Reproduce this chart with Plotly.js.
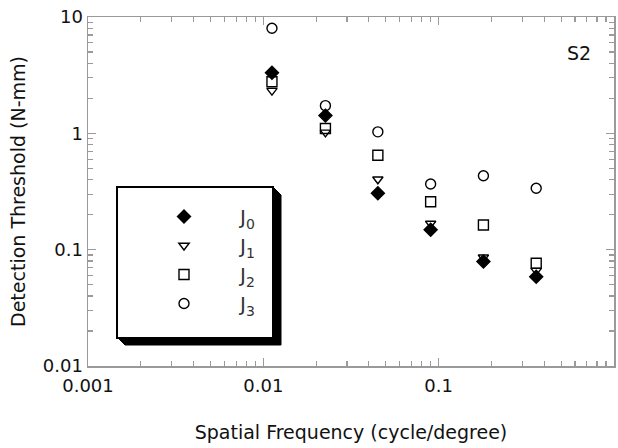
<!DOCTYPE html>
<html><head><meta charset="utf-8">
<script src="https://cdn.plot.ly/plotly-3.0.1.min.js"></script>
<style>html,body{margin:0;padding:0;background:#fff}</style>
</head><body><div id="chart" style="width:618px;height:448px"></div>
<script>
// Data
const freq = [0.0112, 0.0226, 0.045, 0.09, 0.18, 0.36];
const j0 = [3.32, 1.42, 0.305, 0.148, 0.079, 0.0586];
const j1 = [2.33, 1.02, 0.403, 0.168, 0.086, 0.066];
const j2 = [2.78, 1.10, 0.648, 0.258, 0.163, 0.0764];
const j3 = [8.0, 1.73, 1.03, 0.367, 0.432, 0.337];
const seriesNames = ['J<sub>0</sub>', 'J<sub>1</sub>', 'J<sub>2</sub>', 'J<sub>3</sub>'];
const xTickVals = [0.001, 0.01, 0.1, 1];
const xTickText = ['0.001', '0.01', '0.1', '1'];
const yTickVals = [0.01, 0.1, 1, 10];
const yTickText = ['0.01', '0.1', '1', '10'];
const panelLabel = 'S2';

const seriesY = [j0, j1, j2, j3];
const symbols = ['diamond', 'triangle-down-open', 'square-open', 'circle-open'];
const sizes = [10, 9, 10, 10];

const traces = seriesY.map((ys, i) => ({
  x: freq, y: ys, type: 'scatter', mode: 'markers', name: seriesNames[i],
  legendgroup: 'g' + i,
  marker: {symbol: symbols[i], size: sizes[i], color: '#000', line: {color: '#000', width: 1.4}}
}));

// helpers: pixel -> paper for decoration shapes
const L = 88, T = 17, W = 526, H = 349;
const px = v => (v - L) / W;
const py = v => (T + H - v) / H;

const axisCommon = {
  type: 'log', showline: true, linecolor: '#9a9a9a', linewidth: 1.5, mirror: 'ticks',
  ticks: 'inside', ticklen: 8, tickwidth: 1.2, tickcolor: '#9a9a9a',
  showgrid: false, zeroline: false, tickmode: 'array',
  tickfont: {family: 'DejaVu Sans', size: 18, color: '#111'},
  minor: {ticks: 'inside', ticklen: 5, tickwidth: 1.2, tickcolor: '#9a9a9a', dtick: 'D1', showgrid: false}
};

const layout = {
  width: 618, height: 448,
  margin: {l: L, r: 618 - L - W, t: T, b: 448 - T - H},
  paper_bgcolor: '#fff', plot_bgcolor: '#fff',
  font: {family: 'DejaVu Sans', color: '#111'},
  xaxis: Object.assign({}, axisCommon, {
    range: [-3, 0], tickvals: xTickVals, ticktext: xTickText, ticklabelstandoff: 3,
    title: {text: 'Spatial Frequency (cycle/degree)', font: {family: 'DejaVu Sans', size: 19, color: '#111'}, standoff: 30}
  }),
  yaxis: Object.assign({}, axisCommon, {
    range: [-2, 1], tickvals: yTickVals, ticktext: yTickText,
    title: {text: 'Detection Threshold (N-mm)', font: {family: 'DejaVu Sans', size: 19, color: '#111'}, standoff: 12}
  }),
  showlegend: true,
  legend: {
    x: px(128), y: py(197), xanchor: 'left', yanchor: 'top',
    bgcolor: 'rgba(0,0,0,0)', borderwidth: 0, itemwidth: 102,
    tracegroupgap: 0,
    font: {family: 'DejaVu Sans', size: 20, color: '#333'}
  },
  shapes: [
    {type: 'path', xref: 'paper', yref: 'paper', layer: 'above',
     path: `M ${px(273)} ${py(187)} L ${px(281)} ${py(195)} L ${px(281)} ${py(345)} L ${px(125)} ${py(345)} L ${px(117)} ${py(337)} Z`,
     fillcolor: '#000', line: {color: '#000', width: 1}},
    {type: 'rect', xref: 'paper', yref: 'paper', layer: 'above',
     x0: px(117), x1: px(273), y0: py(338), y1: py(187),
     fillcolor: '#fff', line: {color: '#000', width: 2}}
  ],
  annotations: [
    {text: panelLabel, xref: 'paper', yref: 'paper', x: px(579), y: py(53), showarrow: false,
     xanchor: 'center', yanchor: 'middle', font: {family: 'DejaVu Sans', size: 19, color: '#111'}}
  ]
};

Plotly.newPlot('chart', traces, layout, {displayModeBar: false, staticPlot: true});
</script>
</body></html>
